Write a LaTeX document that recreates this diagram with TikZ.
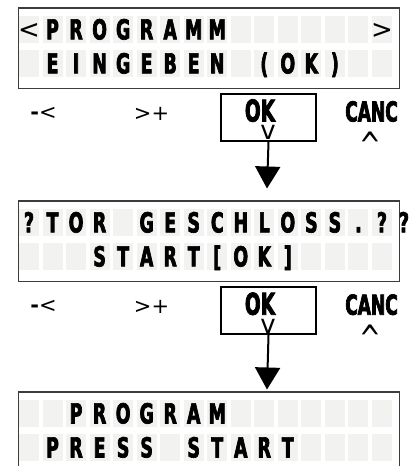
\documentclass[tikz,border=0pt]{standalone}
\usepackage{fontspec}
\usepackage{graphicx}
\usetikzlibrary{arrows.meta}
\newfontfamily\lcdfont[FakeStretch=0.63,FakeBold=2.5]{DejaVu Sans}
\newfontfamily\btnfont[FakeStretch=0.62,FakeBold=2.5]{DejaVu Sans}
\newfontfamily\keyfont{DejaVu Sans}
\definecolor{cellgray}{HTML}{F2F2F0}
\definecolor{lcdborder}{HTML}{3C3C3C}
\tikzset{
  lcd/.style={draw=lcdborder, line width=1.5pt, minimum width=381pt, minimum height=80.5pt, inner sep=0pt, anchor=north west},
  cell/.style={fill=cellgray, inner sep=0pt, minimum width=20pt, minimum height=27.3pt},
  ch/.style={font=\lcdfont\bfseries\fontsize{27.5}{28}\selectfont, inner sep=0pt, anchor=base},
  okbox/.style={draw=black, line width=2pt, minimum width=95pt, minimum height=47.5pt, inner sep=0pt, anchor=north west},
  btn/.style={font=\btnfont\bfseries\fontsize{30}{30}\selectfont, inner sep=0pt, anchor=base},
  keylab/.style={font=\keyfont\fontsize{21}{24}\selectfont, inner sep=0pt},
  pointer/.style={font=\keyfont\fontsize{26}{28}\selectfont, inner sep=0pt, anchor=north},
  flow/.style={line width=2pt, -{Triangle[width=25pt,length=22pt]}}
}
\begin{document}
\begin{tikzpicture}[x=1pt,y=-1pt]
\clip (0,0) rectangle (414,466);
% LCD frames
\node[lcd] (lcd1) at (17.5,7) {};
\node[lcd] (lcd2) at (17.5,200) {};
\node[lcd] (lcd3) at (17.5,391) {};
% cells
\foreach \L/\T in {1/7,2/200,3/391}
  \foreach \r/\dy in {1/22.4,2/56.4}
    \foreach \i in {0,...,15}
      \node[cell] (c\L-\r-\i) at ({29+23.53*\i},{\T+\dy}) {};
% LCD 1 text
\node[ch, font=\keyfont\fontsize{26}{26}\selectfont] (a1-0) at (29,{7+22.4+8.85}) {<};
\foreach \i/\c in {1/P,2/R,3/O,4/G,5/R,6/A,7/M,8/M}
  \node[ch] (a1-\i) at ({29+23.53*\i},{7+22.4+10}) {\c};
\node[ch, font=\keyfont\fontsize{26}{26}\selectfont] (a1-15) at ({29+23.53*15},{7+22.4+8.85}) {>};
\foreach \i/\c in {1/E,2/I,3/N,4/G,5/E,6/B,7/E,8/N,10/(,11/O,12/K,13/)}
  \node[ch] (a2-\i) at ({29+23.53*\i},{7+56.4+10}) {\c};
% LCD 2 text
\foreach \i/\c in {0/?,1/T,2/O,3/R,5/G,6/E,7/S,8/C,9/H,10/L,11/O,12/S,13/S,14/.,15/?}
  \node[ch] (b1-\i) at ({29+23.53*\i},{200+22.4+10}) {\c};
\node[ch] (b1-x) at (404,{200+22.4+10}) {?};
\foreach \i/\c in {3/S,4/T,5/A,6/R,7/T,8/{[},9/O,10/K,11/{]}}
  \node[ch] (b2-\i) at ({29+23.53*\i},{200+56.4+10}) {\c};
% LCD 3 text
\foreach \i/\c in {2/P,3/R,4/O,5/G,6/R,7/A,8/M}
  \node[ch] (d1-\i) at ({29+23.53*\i},{391+22.4+10}) {\c};
\foreach \i/\c in {1/P,2/R,3/E,4/S,5/S,7/S,8/T,9/A,10/R,11/T}
  \node[ch] (d2-\i) at ({29+23.53*\i},{391+56.4+10}) {\c};
% button rows
\foreach \k/\D in {1/0,2/193.2}{
  \node[keylab] (minus\k) at (43.5,{113.5+\D}) {{\bfseries-}<};
  \node[keylab] (plus\k) at (151.5,{113.5+\D}) {>+};
  \node[okbox] (ok\k) at (220,{92.5+\D}) {};
  \node[btn] (oktxt\k) at (260,{121.5+\D}) {OK};
  \node[pointer] (down\k) at (268,{125.5+\D}) {v};
  \node[btn, font=\btnfont\bfseries\fontsize{27.5}{28}\selectfont] (canc\k) at (371.5,{121.5+\D}) {CANC};
  \node[pointer] (up\k) at (370,{131.5+\D}) {\scalebox{1}[1.4]{\textasciicircum}};
}
\coordinate (tip1) at (267,188.5);
\coordinate (tip2) at (267,389.5);
\draw[flow] (ok1.south) -- (tip1);
\draw[flow] (ok2.south) -- (tip2);
\end{tikzpicture}
\end{document}
